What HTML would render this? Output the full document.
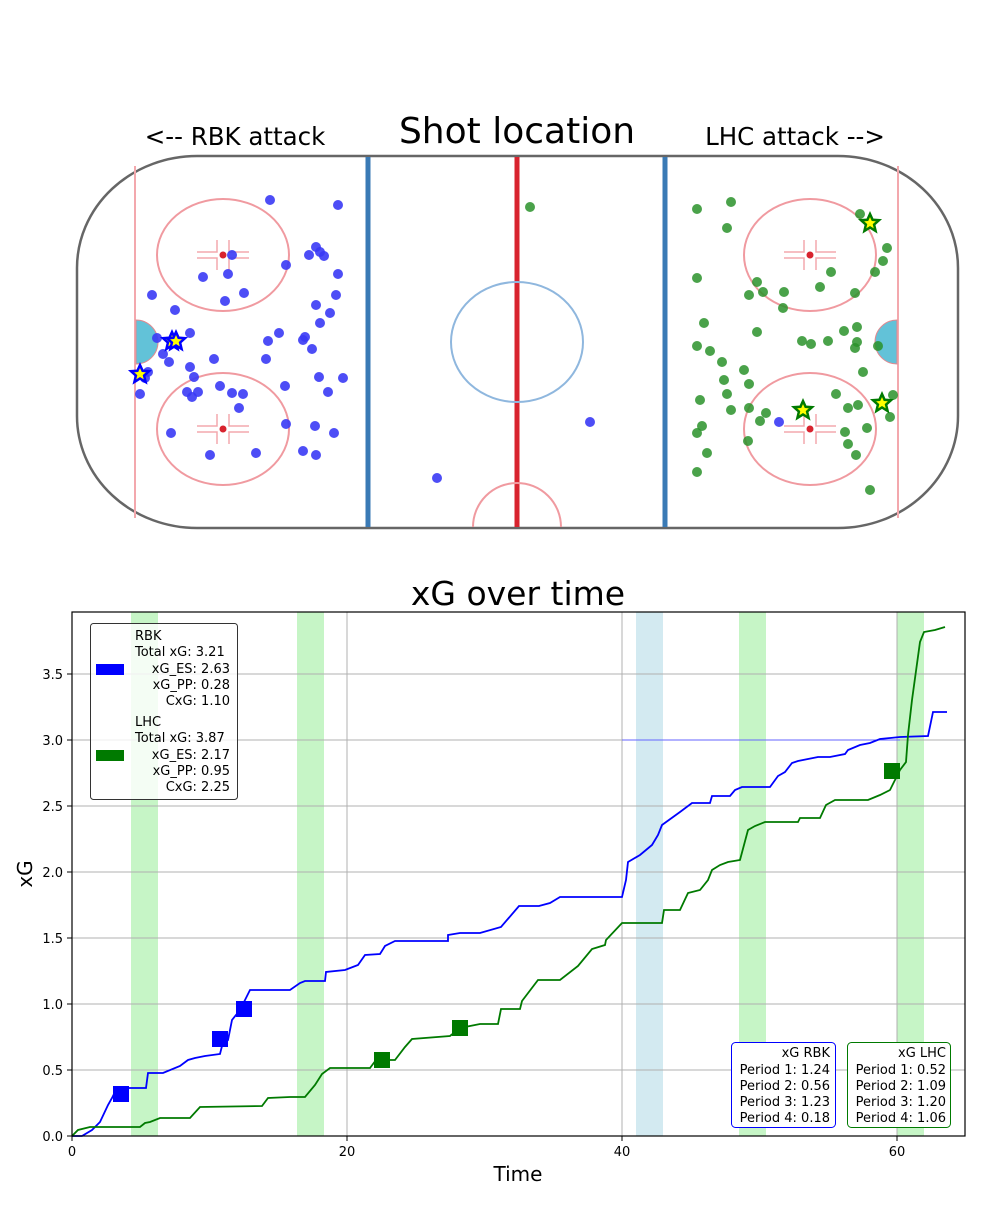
<!DOCTYPE html>
<html><head><meta charset="utf-8"><style>
body{margin:0;background:#fff;}
svg text{font-family:"DejaVu Sans","Liberation Sans",sans-serif;}
</style></head><body>
<svg width="1000" height="1200" viewBox="0 0 1000 1200" xmlns="http://www.w3.org/2000/svg">
<rect width="1000" height="1200" fill="#fff"/>
<!-- Rink -->
<text x="517" y="143" font-size="36" text-anchor="middle" fill="#000">Shot location</text>
<text x="235" y="145" font-size="24.5" text-anchor="middle">&lt;-- RBK attack</text>
<text x="795" y="145" font-size="24.5" text-anchor="middle">LHC attack --&gt;</text>
<rect x="77" y="156" width="881" height="372" rx="120" ry="112" fill="#fff" stroke="#666" stroke-width="2.5"/>
<line x1="135" y1="166" x2="135" y2="518" stroke="#f3a8ad" stroke-width="2"/>
<line x1="898" y1="166" x2="898" y2="518" stroke="#f3a8ad" stroke-width="2"/>
<line x1="368" y1="157" x2="368" y2="527" stroke="#3a7ab5" stroke-width="5"/>
<line x1="665" y1="157" x2="665" y2="527" stroke="#3a7ab5" stroke-width="5"/>
<line x1="517" y1="157" x2="517" y2="527" stroke="#d8232e" stroke-width="5"/>
<ellipse cx="517" cy="342" rx="66" ry="60" fill="none" stroke="#8fb7de" stroke-width="2"/>
<path d="M473 527 A44 44 0 0 1 561 527" fill="none" stroke="#f09aa0" stroke-width="2"/>
<g fill="none" stroke="#f09aa0" stroke-width="2">
<ellipse cx="223" cy="255" rx="66" ry="56"/><ellipse cx="223" cy="429" rx="66" ry="56"/>
<ellipse cx="810" cy="255" rx="66" ry="56"/><ellipse cx="810" cy="429" rx="66" ry="56"/>
</g>
<g fill="#d8232e"><circle cx="223" cy="255" r="3.5"/><circle cx="223" cy="429" r="3.5"/><circle cx="810" cy="255" r="3.5"/><circle cx="810" cy="429" r="3.5"/></g>
<g stroke="#f3a8ad" stroke-width="1.5" fill="none">
<path d="M197 252h20v-12M249 252h-20v-12M197 258h20v12M249 258h-20v12"/>
<path d="M197 426h20v-12M249 426h-20v-12M197 432h20v12M249 432h-20v12"/>
<path d="M784 252h20v-12M836 252h-20v-12M784 258h20v12M836 258h-20v12"/>
<path d="M784 426h20v-12M836 426h-20v-12M784 432h20v12M836 432h-20v12"/>
</g>
<path d="M136 320 A22 22 0 0 1 136 364 Z" fill="#62c2d8" stroke="#e08a90"/>
<path d="M897 320 A22 22 0 0 0 897 364 Z" fill="#62c2d8" stroke="#e08a90"/>
<g fill="#3a3af5" fill-opacity="0.9">
<circle cx="270" cy="200" r="5"/><circle cx="338" cy="205" r="5"/><circle cx="232" cy="255" r="5"/><circle cx="316" cy="247" r="5"/><circle cx="320" cy="252" r="5"/><circle cx="309" cy="255" r="5"/><circle cx="324" cy="256" r="5"/><circle cx="286" cy="265" r="5"/><circle cx="203" cy="277" r="5"/><circle cx="228" cy="274" r="5"/><circle cx="338" cy="274" r="5"/><circle cx="244" cy="293" r="5"/><circle cx="225" cy="301" r="5"/><circle cx="152" cy="295" r="5"/><circle cx="336" cy="295" r="5"/><circle cx="175" cy="310" r="5"/><circle cx="316" cy="305" r="5"/><circle cx="330" cy="313" r="5"/><circle cx="320" cy="323" r="5"/><circle cx="190" cy="333" r="5"/><circle cx="279" cy="333" r="5"/><circle cx="305" cy="337" r="5"/><circle cx="303" cy="340" r="5"/><circle cx="268" cy="341" r="5"/><circle cx="157" cy="338" r="5"/><circle cx="163" cy="354" r="5"/><circle cx="214" cy="359" r="5"/><circle cx="266" cy="359" r="5"/><circle cx="312" cy="349" r="5"/><circle cx="169" cy="362" r="5"/><circle cx="190" cy="367" r="5"/><circle cx="194" cy="377" r="5"/><circle cx="148" cy="372" r="5"/><circle cx="145" cy="378" r="5"/><circle cx="220" cy="386" r="5"/><circle cx="187" cy="392" r="5"/><circle cx="192" cy="397" r="5"/><circle cx="198" cy="392" r="5"/><circle cx="232" cy="393" r="5"/><circle cx="243" cy="394" r="5"/><circle cx="239" cy="408" r="5"/><circle cx="140" cy="394" r="5"/><circle cx="285" cy="386" r="5"/><circle cx="319" cy="377" r="5"/><circle cx="343" cy="378" r="5"/><circle cx="328" cy="392" r="5"/><circle cx="171" cy="433" r="5"/><circle cx="286" cy="424" r="5"/><circle cx="315" cy="426" r="5"/><circle cx="334" cy="433" r="5"/><circle cx="210" cy="455" r="5"/><circle cx="256" cy="453" r="5"/><circle cx="303" cy="451" r="5"/><circle cx="316" cy="455" r="5"/><circle cx="590" cy="422" r="5"/><circle cx="437" cy="478" r="5"/><circle cx="779" cy="422" r="5"/>
</g>
<g fill="#2a922a" fill-opacity="0.85">
<circle cx="530" cy="207" r="5"/><circle cx="697" cy="209" r="5"/><circle cx="731" cy="202" r="5"/><circle cx="727" cy="228" r="5"/><circle cx="860" cy="214" r="5"/><circle cx="887" cy="248" r="5"/><circle cx="697" cy="278" r="5"/><circle cx="883" cy="261" r="5"/><circle cx="875" cy="272" r="5"/><circle cx="831" cy="272" r="5"/><circle cx="757" cy="282" r="5"/><circle cx="749" cy="295" r="5"/><circle cx="763" cy="292" r="5"/><circle cx="784" cy="292" r="5"/><circle cx="820" cy="287" r="5"/><circle cx="855" cy="293" r="5"/><circle cx="783" cy="308" r="5"/><circle cx="704" cy="323" r="5"/><circle cx="844" cy="331" r="5"/><circle cx="857" cy="327" r="5"/><circle cx="757" cy="332" r="5"/><circle cx="697" cy="346" r="5"/><circle cx="710" cy="351" r="5"/><circle cx="802" cy="341" r="5"/><circle cx="811" cy="344" r="5"/><circle cx="828" cy="341" r="5"/><circle cx="855" cy="348" r="5"/><circle cx="857" cy="342" r="5"/><circle cx="878" cy="346" r="5"/><circle cx="722" cy="362" r="5"/><circle cx="744" cy="370" r="5"/><circle cx="724" cy="380" r="5"/><circle cx="749" cy="384" r="5"/><circle cx="863" cy="372" r="5"/><circle cx="700" cy="400" r="5"/><circle cx="727" cy="394" r="5"/><circle cx="749" cy="408" r="5"/><circle cx="766" cy="413" r="5"/><circle cx="731" cy="410" r="5"/><circle cx="702" cy="426" r="5"/><circle cx="697" cy="433" r="5"/><circle cx="760" cy="421" r="5"/><circle cx="836" cy="394" r="5"/><circle cx="848" cy="408" r="5"/><circle cx="858" cy="405" r="5"/><circle cx="893" cy="395" r="5"/><circle cx="890" cy="417" r="5"/><circle cx="867" cy="428" r="5"/><circle cx="845" cy="432" r="5"/><circle cx="748" cy="441" r="5"/><circle cx="848" cy="444" r="5"/><circle cx="707" cy="453" r="5"/><circle cx="856" cy="455" r="5"/><circle cx="697" cy="472" r="5"/><circle cx="870" cy="490" r="5"/>
</g>
<defs><path id="st" d="M0,-9 L2.6,-3.2 9,-2.8 4.1,1.6 5.6,8 0,4.5 -5.6,8 -4.1,1.6 -9,-2.8 -2.6,-3.2Z"/></defs>
<g fill="#ffff00" stroke="#0000ff" stroke-width="2.5">
<use href="#st" x="172" y="341"/><use href="#st" x="176" y="341"/><use href="#st" x="140" y="374"/>
</g>
<g fill="#ffff00" stroke="#007a00" stroke-width="2.5">
<use href="#st" x="870" y="223"/><use href="#st" x="803" y="410"/><use href="#st" x="882" y="403"/>
</g>

<!-- xG chart -->
<text x="518" y="605" font-size="33" text-anchor="middle">xG over time</text>
<g fill="#c6f5c6"><rect x="131" y="612" width="27" height="524"/><rect x="297" y="612" width="27" height="524"/><rect x="739" y="612" width="27" height="524"/><rect x="897" y="612" width="27" height="524"/></g>
<rect x="636" y="612" width="27" height="524" fill="#d3eaf1"/>
<g stroke="#b0b0b0" stroke-width="1">
<line x1="347" y1="612" x2="347" y2="1136"/><line x1="622" y1="612" x2="622" y2="1136"/><line x1="897" y1="612" x2="897" y2="1136"/>
<line x1="72" y1="1070" x2="965" y2="1070"/><line x1="72" y1="1004" x2="965" y2="1004"/><line x1="72" y1="938" x2="965" y2="938"/><line x1="72" y1="872" x2="965" y2="872"/><line x1="72" y1="806" x2="965" y2="806"/><line x1="72" y1="740" x2="965" y2="740"/><line x1="72" y1="674" x2="965" y2="674"/>
</g>
<line x1="622" y1="740" x2="900" y2="740" stroke="#6666ff" stroke-width="1"/>
<polyline fill="none" stroke="#0000ff" stroke-width="1.8" points="72,1136 82,1136 92,1130 100,1122 108,1105 112,1098 116,1090 121,1088 146,1088 148,1073 163,1073 180,1066 188,1060 195,1058 205,1056 220,1054 222,1046 228,1040 232,1020 240,1010 245,1000 250,990 290,990 300,983 305,981 325,981 326,972 345,970 358,965 365,955 380,954 385,946 395,941 448,941 448,935 460,933 480,933 501,927 519,906 539,906 550,903 560,897 622,897 626,880 628,862 640,855 652,845 658,835 662,825 680,812 692,803 710,803 712,796 730,796 735,790 742,787 770,787 778,776 785,772 792,763 798,761 818,757 830,757 845,754 848,750 860,745 870,743 880,739 900,737 928,736 933,712 947,712"/>
<polyline fill="none" stroke="#007a00" stroke-width="1.8" points="72,1136 78,1130 90,1127 140,1127 145,1123 150,1122 160,1118 190,1118 200,1107 262,1106 268,1098 290,1097 305,1097 315,1085 322,1074 330,1068 370,1068 376,1060 395,1060 405,1047 412,1039 450,1036 460,1028 480,1024 498,1024 501,1009 520,1009 522,1001 538,980 560,980 578,966 592,949 605,945 606,940 622,923 662,923 664,910 680,910 688,893 700,890 708,880 712,870 720,865 728,862 740,860 748,830 755,826 765,822 798,822 800,818 820,818 826,805 835,800 868,800 880,795 890,790 900,770 906,762 908,735 912,700 920,642 924,632 935,630 945,627"/>
<g fill="#0000ff"><rect x="113" y="1086" width="16" height="16"/><rect x="212" y="1031" width="16" height="16"/><rect x="236" y="1001" width="16" height="16"/></g>
<g fill="#007a00"><rect x="374" y="1052" width="16" height="16"/><rect x="452" y="1020" width="16" height="16"/><rect x="884" y="763" width="16" height="16"/></g>
<rect x="72" y="612" width="893" height="524" fill="none" stroke="#000" stroke-width="1.2"/>
<g stroke="#000"><line x1="72" y1="1136" x2="72" y2="1141"/><line x1="347" y1="1136" x2="347" y2="1141"/><line x1="622" y1="1136" x2="622" y2="1141"/><line x1="897" y1="1136" x2="897" y2="1141"/>
<line x1="67" y1="1136" x2="72" y2="1136"/><line x1="67" y1="1070" x2="72" y2="1070"/><line x1="67" y1="1004" x2="72" y2="1004"/><line x1="67" y1="938" x2="72" y2="938"/><line x1="67" y1="872" x2="72" y2="872"/><line x1="67" y1="806" x2="72" y2="806"/><line x1="67" y1="740" x2="72" y2="740"/><line x1="67" y1="674" x2="72" y2="674"/></g>
<g font-size="13" text-anchor="middle"><text x="72" y="1156">0</text><text x="347" y="1156">20</text><text x="622" y="1156">40</text><text x="897" y="1156">60</text></g>
<g font-size="13" text-anchor="end"><text x="63" y="1141">0.0</text><text x="63" y="1075">0.5</text><text x="63" y="1009">1.0</text><text x="63" y="943">1.5</text><text x="63" y="877">2.0</text><text x="63" y="811">2.5</text><text x="63" y="745">3.0</text><text x="63" y="679">3.5</text></g>
<text x="518" y="1181" font-size="20" text-anchor="middle">Time</text>
<text x="32" y="874" font-size="20" text-anchor="middle" transform="rotate(-90 32 874)">xG</text>
<!-- legend -->
<rect x="90.5" y="623.5" width="147" height="176" rx="3" fill="#fff" fill-opacity="0.8" stroke="#333"/>
<rect x="96" y="664" width="28" height="11" fill="#0000ff"/>
<rect x="96" y="750" width="28" height="11" fill="#007a00"/>
<g font-size="13"><text x="135" y="640">RBK</text><text x="135" y="656">Total xG: 3.21</text><text x="135" y="726">LHC</text><text x="135" y="742">Total xG: 3.87</text></g>
<g font-size="13" text-anchor="end"><text x="230" y="673">xG_ES: 2.63</text><text x="230" y="689">xG_PP: 0.28</text><text x="230" y="705">CxG: 1.10</text><text x="230" y="759">xG_ES: 2.17</text><text x="230" y="775">xG_PP: 0.95</text><text x="230" y="791">CxG: 2.25</text></g>
<rect x="731.5" y="1042.5" width="104" height="85" rx="4" fill="#fff" stroke="#0000ff"/>
<rect x="847.5" y="1042.5" width="103" height="85" rx="4" fill="#fff" stroke="#007a00"/>
<g font-size="13" text-anchor="end"><text x="830" y="1057">xG RBK</text><text x="830" y="1074">Period 1: 1.24</text><text x="830" y="1090">Period 2: 0.56</text><text x="830" y="1106">Period 3: 1.23</text><text x="830" y="1122">Period 4: 0.18</text>
<text x="946" y="1057">xG LHC</text><text x="946" y="1074">Period 1: 0.52</text><text x="946" y="1090">Period 2: 1.09</text><text x="946" y="1106">Period 3: 1.20</text><text x="946" y="1122">Period 4: 1.06</text></g>
</svg>
</body></html>
